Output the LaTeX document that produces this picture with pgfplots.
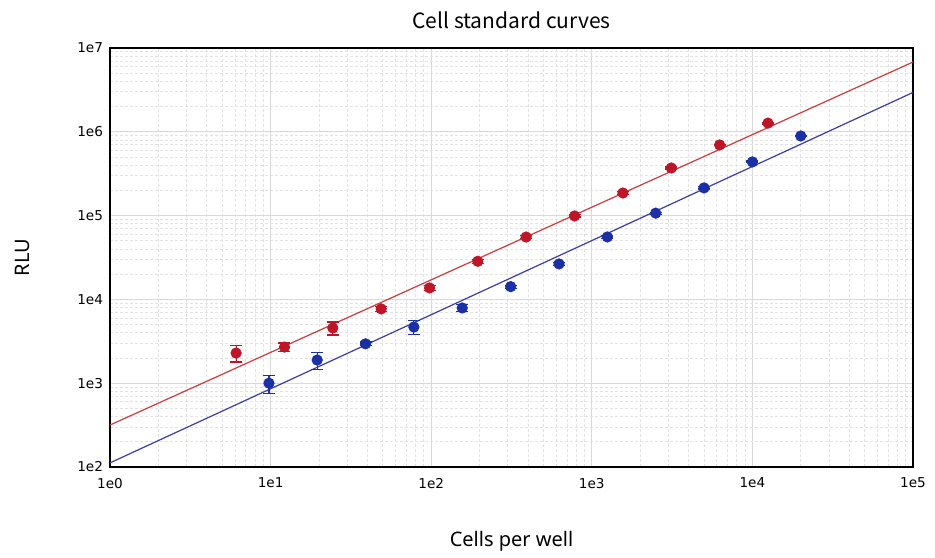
\documentclass[border=0pt]{standalone}
\usepackage{fontspec}
\setmainfont{Noto Sans}
\newfontfamily\titlefont{Noto Sans CJK SC}
\newfontfamily\tickfont{DejaVu Sans}
\usepackage{pgfplots}
\pgfplotsset{compat=1.18}
\definecolor{ptred}{RGB}{190,22,40}
\definecolor{ptblue}{RGB}{28,48,165}
\definecolor{fitred}{RGB}{205,60,60}
\definecolor{fitblue}{RGB}{60,60,165}

% points: x, y, error
\pgfplotstableread{
x y e
6.1 2290 500
12.2 2700 320
24.4 4560 800
48.8 7700 600
97.7 13700 800
195 28500 1500
390 55500 2500
781 99000 3000
1562 186000 6000
3125 370000 10000
6250 697000 15000
12500 1270000 30000
}\redpts
\pgfplotstableread{
x y e
9.77 1000 240
19.5 1890 430
39 2950 150
78 4680 870
156 7900 700
312.5 14200 600
625 26500 1200
1250 55600 2000
2500 107000 3000
5000 214000 6000
10000 437000 10000
20000 891000 15000
}\bluepts

\begin{document}
\begin{tikzpicture}
\begin{axis}[
    scale only axis,
    width=401.5pt, height=209.5pt,
    xmode=log, ymode=log,
    xmin=1, xmax=1e5, ymin=1e2, ymax=1e7,
    xtick={1,10,100,1000,10000,100000},
    xticklabels={1e0,1e1,1e2,1e3,1e4,1e5},
    ytick={100,1000,10000,100000,1000000,10000000},
    yticklabels={1e2,1e3,1e4,1e5,1e6,1e7},
    tick label style={font=\tickfont\fontsize{6.8}{8}\selectfont},
    xticklabel style={yshift=-2pt},
    major tick length=0pt, minor tick length=0pt,
    grid=both,
    major grid style={gray!30, line width=0.5pt},
    minor grid style={gray!22, dash pattern=on 1.5pt off 1pt, line width=0.4pt},
    axis line style={black, line width=0.9pt},
    title={\titlefont\fontsize{10.5}{12}\selectfont Cell standard curves},
    title style={at={(0.5,1)}, anchor=center, yshift=8pt},
    xlabel={Cells per well},
    ylabel={RLU},
    label style={font=\fontsize{10}{12}\selectfont},
    xlabel style={yshift=-14.5pt},
    ylabel style={yshift=17pt},
]
\addplot[fitred, line width=0.6pt] coordinates {(1,317) (100000,6800000)};
\addplot[fitblue, line width=0.6pt] coordinates {(1,112) (100000,2950000)};
\addplot[only marks, mark=*, mark size=2.6pt, ptred,
    error bars/.cd, y dir=both, y explicit,
    error mark options={rotate=90, mark size=3pt, line width=0.6pt},
    error bar style={line width=0.6pt}]
    table[x=x, y=y, y error=e] {\redpts};
\addplot[only marks, mark=*, mark size=2.6pt, ptblue,
    error bars/.cd, y dir=both, y explicit,
    error mark options={rotate=90, mark size=3pt, line width=0.6pt},
    error bar style={line width=0.6pt}]
    table[x=x, y=y, y error=e] {\bluepts};
\end{axis}
\path (current axis.south west) ++(-55pt,-42pt)
    rectangle ([xshift=11pt, yshift=24pt]current axis.north east);
\end{tikzpicture}
\end{document}
